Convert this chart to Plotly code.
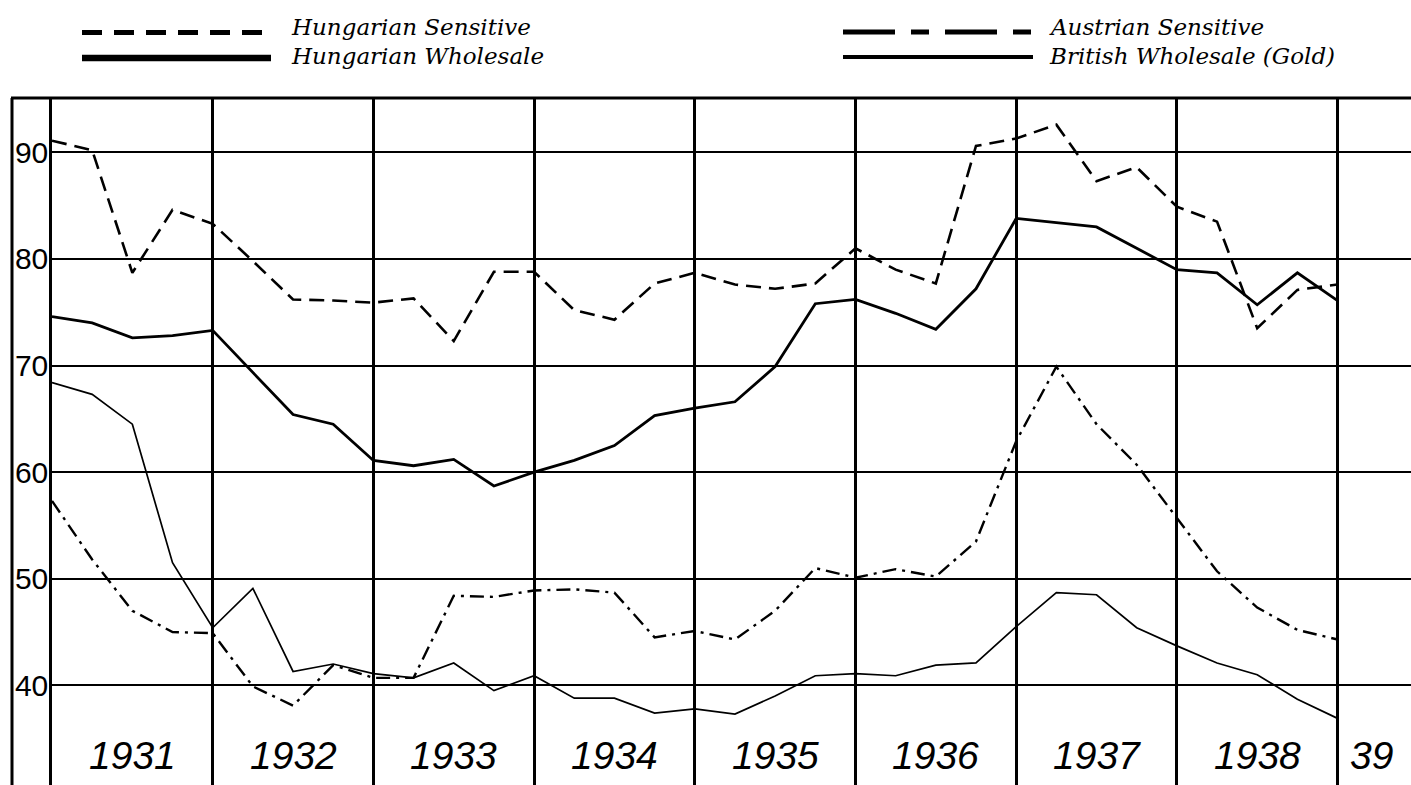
import plotly.graph_objects as go

# ---------------- data (quarterly index values) ----------------
quarters = [1931.0, 1931.25, 1931.5, 1931.75, 1932.0, 1932.25, 1932.5, 1932.75,
            1933.0, 1933.25, 1933.5, 1933.75, 1934.0, 1934.25, 1934.5, 1934.75,
            1935.0, 1935.25, 1935.5, 1935.75, 1936.0, 1936.25, 1936.5, 1936.75,
            1937.0, 1937.25, 1937.5, 1937.75, 1938.0, 1938.25, 1938.5, 1938.75,
            1939.0]

hungarian_sensitive = [91.1, 90.2, 78.7, 84.6, 83.3, 79.8, 76.2, 76.1,
                       75.9, 76.3, 72.3, 78.8, 78.8, 75.2, 74.3, 77.7,
                       78.7, 77.6, 77.2, 77.7, 81.0, 79.0, 77.7, 90.6,
                       91.3, 92.6, 87.3, 88.6, 84.9, 83.5, 73.5, 77.1,
                       77.6]

hungarian_wholesale = [74.6, 74.0, 72.6, 72.8, 73.3, 69.3, 65.4, 64.5,
                       61.1, 60.6, 61.2, 58.7, 60.0, 61.1, 62.5, 65.3,
                       66.0, 66.6, 69.9, 75.8, 76.2, 74.9, 73.4, 77.2,
                       83.8, 83.4, 83.0, 81.0, 79.0, 78.7, 75.7, 78.7,
                       76.1]

austrian_sensitive = [57.3, 51.8, 47.0, 45.0, 44.9, 39.9, 38.1, 41.9,
                      40.7, 40.7, 48.4, 48.3, 48.9, 49.0, 48.7, 44.5,
                      45.1, 44.3, 47.0, 51.0, 50.1, 50.9, 50.2, 53.5,
                      62.9, 69.9, 64.5, 60.7, 55.7, 50.7, 47.3, 45.2,
                      44.3]

british_wholesale = [68.4, 67.3, 64.5, 51.5, 45.4, 49.1, 41.3, 42.0,
                     41.1, 40.7, 42.1, 39.5, 40.9, 38.8, 38.8, 37.4,
                     37.8, 37.3, 39.0, 40.9, 41.1, 40.9, 41.9, 42.1,
                     45.5, 48.7, 48.5, 45.4, 43.7, 42.1, 41.0, 38.7,
                     36.9]

year_label_x = [1931.5, 1932.5, 1933.5, 1934.5, 1935.5, 1936.5, 1937.5, 1938.5, 1939.21]
year_labels = ["1931", "1932", "1933", "1934", "1935", "1936", "1937", "1938", "39"]
year_grid = [1931, 1932, 1933, 1934, 1935, 1936, 1937, 1938, 1939]
y_ticks = [40, 50, 60, 70, 80, 90]

legend_names = ["Hungarian Sensitive", "Hungarian Wholesale",
                "Austrian Sensitive", "British Wholesale (Gold)"]

# ---------------- figure ----------------
W, H = 1411, 785
ML, MT = 52, 98
PW, PH = W - ML, H - MT

def px_x(x):
    return (x - ML) / PW

def px_y(y):
    return (H - y) / PH

fig = go.Figure()

fig.add_trace(go.Scatter(x=quarters, y=hungarian_sensitive, mode="lines",
                         name=legend_names[0], showlegend=False,
                         line=dict(color="black", width=2.6, dash="15px,8px")))
fig.add_trace(go.Scatter(x=quarters, y=hungarian_wholesale, mode="lines",
                         name=legend_names[1], showlegend=False,
                         line=dict(color="black", width=2.8)))
fig.add_trace(go.Scatter(x=quarters, y=austrian_sensitive, mode="lines",
                         name=legend_names[2], showlegend=False,
                         line=dict(color="black", width=2.4, dash="14px,6px,3px,6px")))
fig.add_trace(go.Scatter(x=quarters, y=british_wholesale, mode="lines",
                         name=legend_names[3], showlegend=False,
                         line=dict(color="black", width=1.7)))

serif_it = dict(family="DejaVu Serif, Liberation Serif, serif", size=23, color="black")
sans = "Liberation Sans, Arial, sans-serif"

shapes = [
    # outer frame: top and left
    dict(type="line", xref="paper", yref="paper", x0=px_x(11), x1=1, y0=1, y1=1,
         line=dict(color="black", width=3)),
    dict(type="line", xref="paper", yref="paper", x0=px_x(12), x1=px_x(12), y0=0, y1=1,
         line=dict(color="black", width=3)),
    # legend samples
    dict(type="line", xref="paper", yref="paper", x0=px_x(82), x1=px_x(271),
         y0=px_y(32.5), y1=px_y(32.5), line=dict(color="black", width=5, dash="20px,12px")),
    dict(type="line", xref="paper", yref="paper", x0=px_x(82), x1=px_x(271),
         y0=px_y(58), y1=px_y(58), line=dict(color="black", width=6.5)),
    dict(type="line", xref="paper", yref="paper", x0=px_x(843), x1=px_x(1033),
         y0=px_y(32), y1=px_y(32), line=dict(color="black", width=5, dash="52px,16px,18px,16px")),
    dict(type="line", xref="paper", yref="paper", x0=px_x(843), x1=px_x(1033),
         y0=px_y(57), y1=px_y(57), line=dict(color="black", width=4)),
]

annotations = []
legend_pos = [(289, 27.5), (289, 56), (1047, 27.5), (1047, 56)]
for name, (lx, ly) in zip(legend_names, legend_pos):
    annotations.append(dict(text="<i>" + name + "</i>", xref="paper", yref="paper",
                            x=px_x(lx), y=px_y(ly), xanchor="left", yanchor="middle",
                            showarrow=False, font=serif_it))

for lx, lab in zip(year_label_x, year_labels):
    annotations.append(dict(text="<i>" + lab + "</i>", x=lx, y=33.4, xref="x", yref="y",
                            showarrow=False, xanchor="center", yanchor="middle",
                            font=dict(family=sans, size=39, color="black")))

fig.update_layout(
    width=W, height=H,
    margin=dict(l=ML, r=0, t=MT, b=0, autoexpand=False),
    paper_bgcolor="white", plot_bgcolor="white",
    shapes=shapes, annotations=annotations,
    showlegend=False,
    xaxis=dict(range=[1931, 1939.457], tickvals=year_grid, showticklabels=False,
               showgrid=True, gridcolor="black", gridwidth=2.5, zeroline=False,
               showline=False, ticks=""),
    yaxis=dict(range=[30.65, 95.1], tickvals=y_ticks, ticktext=[str(v) for v in y_ticks],
               showgrid=True, gridcolor="black", gridwidth=2.2, zeroline=False,
               showline=True, linecolor="black", linewidth=2.5, ticks="", ticklen=0,
               tickfont=dict(family=sans, size=30, color="black"),
               ticklabelstandoff=-5),
)

fig.write_html("out.html", config={"displayModeBar": False},
               post_script="document.body.style.margin='0';")
